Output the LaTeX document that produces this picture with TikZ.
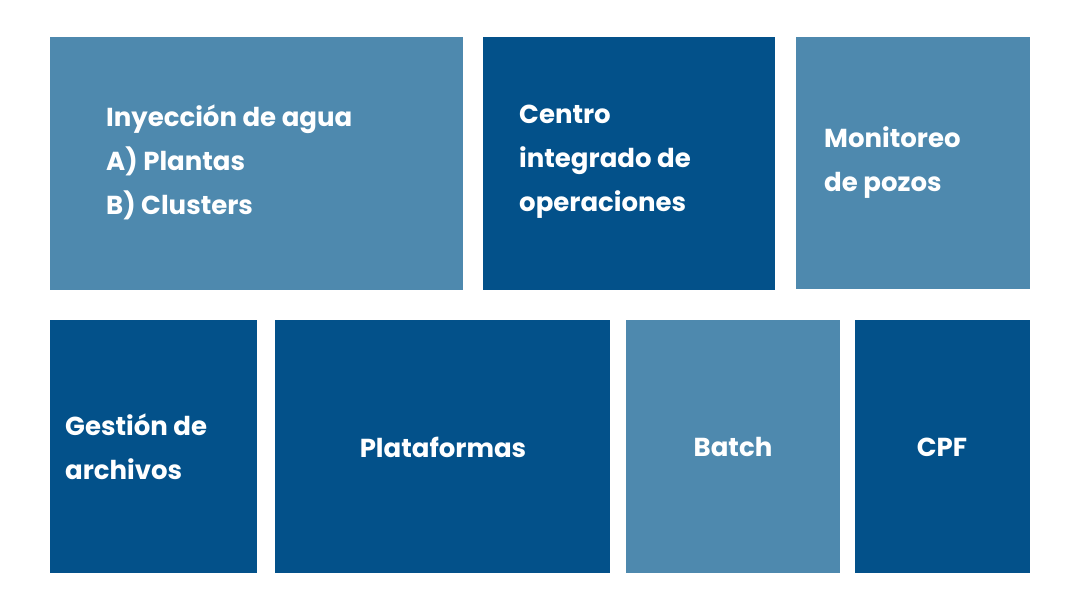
\documentclass[tikz,border=0pt]{standalone}
\usepackage{fontspec}
\setmainfont{Poppins}
\definecolor{lightb}{HTML}{4E89AE}
\definecolor{darkb}{HTML}{03518A}
\begin{document}
\begin{tikzpicture}[x=1pt,y=-1pt,
  tile/.style={draw=none,inner sep=0pt},
  lbl/.style={text=white,font=\fontsize{26}{44}\selectfont\bfseries,inner sep=0pt,align=left}]
\useasboundingbox[fill=white] (0,0) rectangle (1080,600);
\newcommand\tile[6]{\fill[#6] (#2,#3) rectangle (#4,#5) node[tile,pos=.5] (#1) {};}
\tile{b1}{50}{37}{463}{290}{lightb}
\tile{b2}{483}{37}{775}{290}{darkb}
\tile{b3}{796}{37}{1030}{289}{lightb}
\tile{b4}{50}{320}{257}{573}{darkb}
\tile{b5}{275}{320}{610}{573}{darkb}
\tile{b6}{626}{320}{840}{573}{lightb}
\tile{b7}{855}{320}{1030}{573}{darkb}
\node[lbl,anchor=west] (t1) at (106,162) {Inyección de agua\\A) Plantas\\B) Clusters};
\node[lbl,anchor=west] (t2) at (519,162) {Centro\\integrado de\\operaciones};
\node[lbl,anchor=west] (t3) at (824,163) {Monitoreo\\de pozos};
\node[lbl,anchor=west] (t4) at (65,447) {Gestión de\\archivos};
\node[lbl] (t5) at (443,447) {Plataformas};
\node[lbl] (t6) at (733,447) {Batch};
\node[lbl] (t7) at (942,447) {CPF};
\end{tikzpicture}
\end{document}
